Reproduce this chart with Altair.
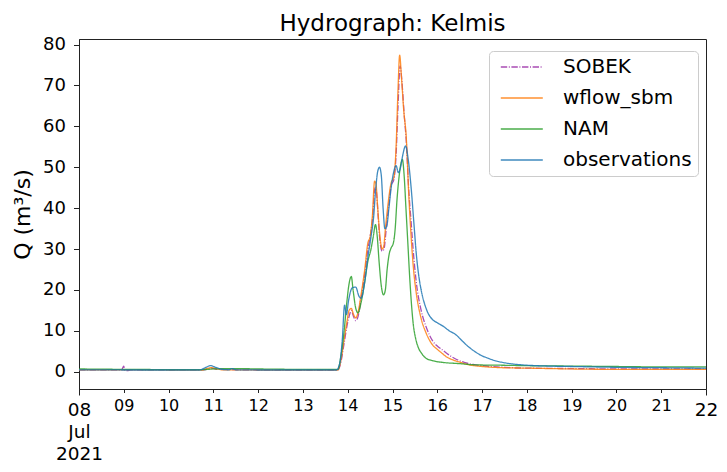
import altair as alt
import pandas as pd

# Day-of-month (July 2021, fractional days) and discharge Q (m3/s) per series
sobek_t = [8.0, 8.95, 9.0, 9.02, 9.1, 9.15, 10.0, 10.8, 10.95, 11.1, 12.0, 13.0, 13.78, 13.85, 13.92,
           13.98, 14.03, 14.08, 14.13, 14.18, 14.23, 14.3, 14.38, 14.45, 14.5, 14.55, 14.61, 14.64,
           14.68, 14.72, 14.77, 14.81, 14.86, 14.92, 14.97, 15.03, 15.08, 15.12, 15.17, 15.21, 15.26,
           15.31, 15.36, 15.42, 15.46, 15.53, 15.64, 15.75, 15.9, 16.0, 16.12, 16.25, 16.4, 16.6, 16.8,
           17.0, 17.5, 18.0, 19.0, 20.0, 21.0, 22.0]
sobek_q = [0.5, 0.5, 1.4, 0.4, 0.3, 0.5, 0.45, 0.5, 0.9, 0.6, 0.45, 0.45, 0.45, 2.5, 7.0,
           11.0, 13.5, 15.0, 13.5, 12.5, 13.5, 18.0, 24.0, 30.0, 33.0, 37.0, 45.0, 44.0,
           38.0, 32.0, 29.5, 30.0, 35.0, 41.0, 45.5, 47.0, 53.0, 64.0, 74.8, 71.0, 63.0,
           56.0, 45.0, 36.0, 30.0, 22.0, 15.0, 11.0, 7.5, 6.3, 5.3, 4.2, 3.2, 2.3, 1.8,
           1.5, 1.1, 0.9, 0.8, 0.7, 0.7, 0.7]

wflow_t = [8.0, 9.0, 10.0, 10.75, 10.85, 10.95, 11.05, 11.2, 12.0, 13.0, 13.78, 13.85, 13.92, 13.98,
           14.03, 14.08, 14.13, 14.18, 14.23, 14.3, 14.38, 14.45, 14.5, 14.55, 14.6, 14.63, 14.67,
           14.72, 14.77, 14.8, 14.85, 14.9, 14.97, 15.03, 15.08, 15.12, 15.16, 15.2, 15.25, 15.31,
           15.36, 15.42, 15.47, 15.53, 15.64, 15.75, 15.9, 16.0, 16.12, 16.2, 16.35, 16.49, 16.71,
           17.0, 17.46, 18.0, 19.0, 20.0, 21.0, 22.0]
wflow_q = [0.5, 0.5, 0.45, 0.45, 0.8, 1.0, 0.8, 0.5, 0.45, 0.45, 0.45, 3.0, 8.0, 12.0,
           15.0, 15.5, 14.0, 13.2, 14.5, 19.0, 25.0, 31.5, 33.0, 38.0, 46.6, 46.0, 40.0,
           33.0, 30.0, 30.5, 36.0, 41.0, 46.2, 47.5, 55.0, 68.0, 77.4, 72.0, 64.0, 56.8,
           44.0, 32.3, 25.0, 19.3, 13.0, 9.5, 6.5, 5.5, 4.4, 3.7, 2.9, 2.4, 1.7,
           1.3, 1.0, 0.9, 0.7, 0.6, 0.6, 0.6]

nam_t = [8.0, 9.0, 10.0, 10.8, 11.0, 11.5, 12.0, 13.0, 13.78, 13.85, 13.92, 13.98, 14.03, 14.08,
         14.12, 14.18, 14.23, 14.3, 14.38, 14.45, 14.52, 14.57, 14.62, 14.66, 14.7, 14.75, 14.8,
         14.84, 14.88, 14.93, 14.97, 15.02, 15.06, 15.1, 15.15, 15.19, 15.22, 15.26, 15.3, 15.34,
         15.39, 15.46, 15.52, 15.57, 15.65, 15.75, 15.9, 16.12, 16.5, 16.86, 17.5, 18.0, 19.0,
         20.0, 21.0, 22.0]
nam_q = [0.7, 0.6, 0.55, 0.55, 0.7, 0.8, 0.7, 0.6, 0.6, 4.0, 10.0, 17.0, 21.5, 23.3,
         20.0, 15.5, 14.4, 17.0, 22.0, 27.0, 30.0, 33.0, 36.0, 33.0, 27.0, 21.0, 18.8,
         20.0, 25.0, 29.0, 30.3, 31.5, 35.0, 42.0, 48.0, 51.0, 51.9, 48.0, 40.0, 32.0,
         22.0, 12.0, 8.0, 6.1, 4.5, 3.3, 2.7, 2.3, 2.0, 1.7, 1.6, 1.5, 1.4,
         1.3, 1.2, 1.2]

obs_t = [8.0, 9.0, 10.0, 10.7, 10.8, 10.94, 11.05, 11.2, 11.35, 11.42, 11.5, 12.0, 13.0, 13.75,
         13.82, 13.88, 13.93, 13.97, 14.02, 14.1, 14.18, 14.25, 14.3, 14.38, 14.45, 14.52, 14.58,
         14.62, 14.67, 14.71, 14.75, 14.79, 14.83, 14.87, 14.92, 14.97, 15.03, 15.08, 15.13, 15.18,
         15.23, 15.29, 15.35, 15.42, 15.48, 15.53, 15.58, 15.64, 15.75, 15.9, 16.0, 16.15, 16.27,
         16.4, 16.57, 16.71, 16.86, 17.0, 17.09, 17.3, 17.46, 17.7, 17.9, 18.5, 19.0, 20.0, 21.0, 22.0]
obs_q = [0.5, 0.45, 0.45, 0.45, 0.9, 1.5, 1.1, 0.6, 0.5, 0.8, 0.5, 0.45, 0.45, 0.45,
         2.0, 8.0, 16.3, 14.0, 17.5, 20.5, 20.7, 18.5, 18.0, 22.0, 28.0, 33.0, 38.0,
         44.0, 49.0, 50.0, 48.0, 40.0, 35.0, 35.5, 40.0, 45.0, 49.0, 50.4, 48.7, 50.0,
         53.0, 55.2, 52.0, 44.5, 36.0, 29.0, 24.0, 20.0, 15.5, 12.7, 12.0, 11.0, 10.0,
         9.2, 7.4, 6.0, 4.8, 3.9, 3.5, 2.7, 2.3, 1.9, 1.7, 1.4, 1.3, 1.1, 1.0, 0.9]

series_names = ["SOBEK", "wflow_sbm", "NAM", "observations"]
series_colors = ["#9a2ea8", "#ff7f0e", "#2ca02c", "#1f77b4"]
series_dash = [[6.4, 1.6, 1, 1.6], [1, 0], [1, 0], [1, 0]]

y_ticks = [0, 10, 20, 30, 40, 50, 60, 70, 80]
x_days = list(range(8, 23))

DAY_MS = 86400000
T0 = int(pd.Timestamp("2021-07-08", tz="UTC").timestamp() * 1000)


def to_ms(d):
    return T0 + (d - 8.0) * DAY_MS


rows = []
for name, ts, qs in [("SOBEK", sobek_t, sobek_q), ("wflow_sbm", wflow_t, wflow_q),
                     ("NAM", nam_t, nam_q), ("observations", obs_t, obs_q)]:
    for i, (t, q) in enumerate(zip(ts, qs)):
        rows.append({"t": to_ms(t), "q": q, "series": name, "order": i})
df = pd.DataFrame(rows)

tick_values = [to_ms(d) for d in x_days]

major_test = "utcdate(datum.value) == 8 || utcdate(datum.value) == 22"

x_axis = alt.Axis(
    values=tick_values,
    labelExpr="utcdate(datum.value) == 8 ? ['08', 'Jul', '2021'] : utcFormat(datum.value, '%d')",
    labelFontSize={"condition": {"test": major_test, "value": 18.5}, "value": 16},
    tickSize={"condition": {"test": major_test, "value": 6}, "value": 3.5},
    labelLineHeight=22,
    labelPadding=5,
    labelFlush=False,
    labelOverlap=False,
    grid=False,
    title=None,
)

y_axis = alt.Axis(
    values=y_ticks,
    labelFontSize=18,
    tickSize=5.5,
    labelPadding=8,
    grid=False,
    title="Q (m³/s)",
    titleFontSize=22,
    titleFontWeight="normal",
    titlePadding=8,
)


def make_legend():
    return alt.Legend(
        title=None, orient="none", legendX=410, legendY=12,
        symbolType="M-0.6,0H5.4", symbolSize=196, symbolStrokeWidth=1.6,
        labelFontSize=20, labelOffset=48, rowPadding=11,
        padding=6, cornerRadius=4, strokeColor="#cccccc",
        fillColor="white", labelColor="black",
    )


chart = alt.Chart(df).mark_line(strokeWidth=1.3, opacity=0.85, interpolate="monotone").encode(
    x=alt.X("t:T", axis=x_axis,
            scale=alt.Scale(type="utc", domain=[tick_values[0], tick_values[-1]], nice=False)),
    y=alt.Y("q:Q", axis=y_axis, scale=alt.Scale(domain=[-4.2, 81.35], nice=False, zero=False)),
    color=alt.Color("series:N",
                    scale=alt.Scale(domain=series_names, range=series_colors),
                    legend=make_legend()),
    strokeDash=alt.StrokeDash("series:N",
                              scale=alt.Scale(domain=series_names, range=series_dash),
                              legend=make_legend()),
    detail="series:N",
    order="order:Q",
).properties(
    width=627,
    height=350,
    title=alt.TitleParams("Hydrograph: Kelmis", fontSize=23, fontWeight="normal",
                          color="black", offset=0, anchor="middle"),
    autosize=alt.AutoSizeParams(type="none"),
    padding={"left": 71, "top": 31, "right": 13, "bottom": 75},
).configure(
    font="DejaVu Sans",
).configure_view(
    stroke="#222222", strokeWidth=1,
).configure_axis(
    domainColor="#222222", tickColor="#222222", labelColor="black", titleColor="black",
    labelFont="DejaVu Sans", titleFont="DejaVu Sans",
).configure_legend(
    labelFont="DejaVu Sans",
).configure_title(
    font="DejaVu Sans",
)

chart.save("out.html", embed_options={"renderer": "svg", "actions": False})
